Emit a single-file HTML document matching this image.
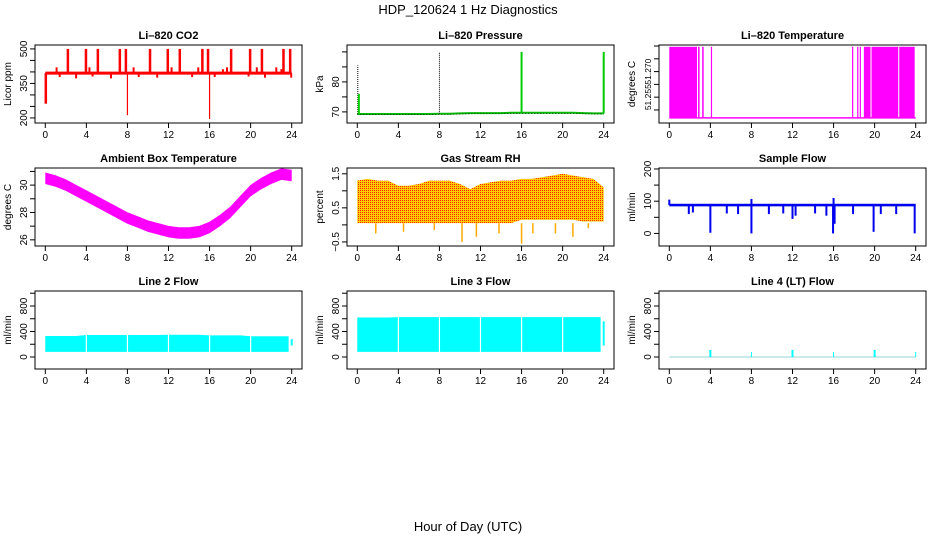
<!DOCTYPE html>
<html><head><meta charset="utf-8"><style>
html,body{margin:0;padding:0;background:#fff}
svg text{font-family:"Liberation Sans",sans-serif}
</style></head><body>
<svg id="c" width="936" height="540" xmlns="http://www.w3.org/2000/svg">
<defs><pattern id="rh" width="2" height="2" patternUnits="userSpaceOnUse"><rect width="2" height="2" fill="#ffcc00"/><rect width="1" height="1" fill="#ff2200"/></pattern></defs>
<text x="468" y="14" font-size="13" text-anchor="middle">HDP_120624  1 Hz Diagnostics</text>
<text x="468" y="531" font-size="13" text-anchor="middle">Hour of Day (UTC)</text>
</svg>
<script>
const hours=[0,4,8,12,16,20,24];
const hr25=[0,1,2,3,4,5,6,7,8,9,10,11,12,13,14,15,16,17,18,19,20,21,22,23,24];
// CO2
const co2Base=395;
const co2SpikeHours=[2.2,3.96,5.12,7.26,7.85,10.2,11.93,13.1,15.3,15.85,18.1,19.95,21.1,23.2,23.85];
const co2SpikeVals=[500,500,500,500,500,500,500,500,500,500,500,500,500,500,500];
const co2DipHours=[0.05,8.0,16.0];
const co2DipVals=[262,212,195];
const co2BumpHours=[1.1,1.4,3.0,4.3,4.6,6.4,8.6,9.1,10.9,12.3,14.3,14.9,16.5,17.3,17.7,19.8,20.6,21.4,22.5,23.0,23.95];
const co2BumpVals=[420,378,372,420,380,372,420,378,375,420,378,420,378,412,420,380,420,375,420,412,375];
// Pressure
const presBase=[69.3,69.3,69.3,69.3,69.3,69.3,69.3,69.3,69.4,69.4,69.5,69.6,69.6,69.6,69.6,69.7,69.7,69.7,69.7,69.7,69.7,69.7,69.6,69.5,69.5];
const presSpikeHours=[0.05,0.15,8.0,16.0,24.0];
const presSpikeVals=[85.5,76,90,90,90];
const presSpikeColors=['#000','#00cc00','#000','#00cc00','#00cc00'];
// Li-820 temperature
const tempLow=51.2469, tempHigh=51.2747;
const tempDenseStart=[0,2.8,3.2,4.05,17.8,18.3,18.55,18.95,19.7,22.4];
const tempDenseEnd=[2.7,2.95,3.35,4.15,17.85,18.35,18.6,19.6,22.3,23.9];
// Ambient
const ambMid=[30.5,30.3,30.0,29.6,29.2,28.8,28.4,28.0,27.6,27.3,27.0,26.8,26.6,26.5,26.5,26.6,26.9,27.4,28.0,28.8,29.6,30.1,30.5,30.8,30.7];
const ambHalf=0.42;
// RH
const rhHi=[1.3,1.35,1.3,1.3,1.15,1.15,1.2,1.3,1.3,1.3,1.2,1.05,1.2,1.25,1.3,1.3,1.35,1.35,1.4,1.45,1.5,1.45,1.4,1.35,1.1];
const rhLo=[0.05,0.05,0.05,0.05,0.05,0.05,0.05,0.05,0.05,0.05,0.05,0.05,0.05,0.05,0.05,0.05,0.15,0.15,0.15,0.15,0.15,0.15,0.1,0.1,0.1];
const rhDipHours=[1.8,4.5,7.5,10.2,11.6,13.8,16.0,17.1,19.3,21.0,22.5];
const rhDipVals=[-0.25,-0.2,-0.15,-0.5,-0.35,-0.25,-0.55,-0.25,-0.25,-0.35,-0.1];
// Sample flow
const sfBase=88;
const sfDipHours=[1.9,2.3,4.0,5.6,6.7,8.0,9.7,11.1,12.0,12.3,14.2,15.3,15.95,16.1,17.9,19.9,20.6,22.1,23.9];
const sfDipVals=[60,65,2,62,60,0,60,62,45,55,62,55,0,30,60,5,60,60,0];
// Line flows
const l2Top=[330,330,330,330,345,345,345,345,345,345,345,345,350,350,350,350,340,340,340,340,325,325,325,325,280];
const l2Low=80;
const l3Top=[620,620,620,620,625,625,625,625,625,625,625,625,625,625,625,625,625,625,625,625,625,625,625,625,560];
const l3Low=80;
const gapHours=[4,8,12,16,20];
const l4SpikeHours=[4,8,12,16,20,24];
const l4SpikeVals=[110,80,110,80,110,80];

const svg=document.getElementById('c');
const NS='http://www.w3.org/2000/svg';
function mk(tag,at,parent){const e=document.createElementNS(NS,tag);for(const k in at)e.setAttribute(k,at[k]);(parent||svg).appendChild(e);return e;}

function panel(name,title,ylab,col,row,ymin,ymax,yticks,ylabels,yfs){
  const L=[35,347,659][col],T=[45,168,291][row],W=267,H=78;
  const g=mk('g',{});
  
  
  const xs=h=>L+10.3+h*(W-20.6)/24;
  const ys=v=>T+H-(v-ymin)/(ymax-ymin)*H;
  const t=mk('text',{x:L+W/2,y:T-6,'font-size':11,'font-weight':'bold','text-anchor':'middle'},g);t.textContent=title;
  
  
  const ax=mk('g',{},g);
  
  
  mk('line',{x1:xs(0),x2:xs(24),y1:T+H,y2:T+H,stroke:'#000'},ax);
  hours.forEach(h=>{mk('line',{x1:xs(h),x2:xs(h),y1:T+H,y2:T+H+5,stroke:'#000'},ax);
    const tx=mk('text',{x:xs(h),y:T+H+15,'font-size':10,'text-anchor':'middle'},ax);tx.textContent=h;});
  const ay=mk('g',{},g);
  
  
  mk('line',{x1:L,x2:L,y1:ys(yticks[0]),y2:ys(yticks[yticks.length-1]),stroke:'#000'},ay);
  yticks.forEach((v,i)=>{mk('line',{x1:L-5,x2:L,y1:ys(v),y2:ys(v),stroke:'#000'},ay);
    if(ylabels[i]!==''){const tx=mk('text',{x:0,y:0,'font-size':yfs||10,'text-anchor':'middle',transform:`translate(${L-8},${ys(v)}) rotate(-90)`},ay);tx.textContent=ylabels[i];}});
  const yl=mk('text',{x:0,y:0,'font-size':10,'text-anchor':'middle',transform:`translate(${L-24},${T+H/2}) rotate(-90)`},g);yl.textContent=ylab;
  
  
  const d=mk('g',{},g);
  
  
  mk('rect',{x:L,y:T,width:W,height:H,fill:'none',stroke:'#000'},g);
  return {xs,ys,d};
}
function vline(p,h,v0,v1,c,w){mk('line',{x1:p.xs(h),x2:p.xs(h),y1:p.ys(v0),y2:p.ys(v1),stroke:c,'stroke-width':w||1.5},p.d);}
function band(p,lo,hi,fill,hrs){let pts=[];hrs.forEach((h,i)=>pts.push(p.xs(h)+','+p.ys(hi[i])));for(let i=hrs.length-1;i>=0;i--)pts.push(p.xs(hrs[i])+','+p.ys(lo[i]));mk('polygon',{points:pts.join(' '),fill},p.d);}

// CO2
let p=panel('co2','Li\u2013820 CO2','Licor ppm',0,0,178,517,[200,250,300,350,400,450,500],['200','','','350','','','500']);
mk('line',{x1:p.xs(0),x2:p.xs(24),y1:p.ys(co2Base),y2:p.ys(co2Base),stroke:'#f00','stroke-width':3},p.d);
co2SpikeHours.forEach((h,i)=>vline(p,h,co2Base,co2SpikeVals[i],'#f00',2.5));
co2DipHours.forEach((h,i)=>vline(p,h,co2Base,co2DipVals[i],'#f00',i==0?2.5:1.2));
co2BumpHours.forEach((h,i)=>vline(p,h,co2Base,co2BumpVals[i],'#f00',2));
// Pressure
p=panel('pressure','Li\u2013820 Pressure','kPa',1,0,66.3,92.3,[70,75,80,85,90],['70','','80','','']);
mk('polyline',{points:hr25.map((h,i)=>p.xs(h)+','+p.ys(presBase[i])).join(' '),fill:'none',stroke:'#00bb00','stroke-width':2},p.d);
mk('polyline',{points:hr25.map((h,i)=>p.xs(h)+','+p.ys(presBase[i]-0.2)).join(' '),fill:'none',stroke:'#000','stroke-width':0.7,'stroke-dasharray':'1,2'},p.d);
presSpikeHours.forEach((h,i)=>mk('line',{x1:p.xs(h),x2:p.xs(h),y1:p.ys(presBase[Math.round(h)]),y2:p.ys(presSpikeVals[i]),stroke:presSpikeColors[i],'stroke-width':presSpikeColors[i]=='#000'?1:2,'stroke-dasharray':presSpikeColors[i]=='#000'?'1,1':'none'},p.d));
// Temperature
p=panel('li820-temp','Li\u2013820 Temperature','degrees C',2,0,51.2449,51.2754,[51.250,51.255,51.260,51.265,51.270,51.275],['','51.255','','51.270','',''],8.5);
mk('line',{x1:p.xs(0),x2:p.xs(24),y1:p.ys(tempLow),y2:p.ys(tempLow),stroke:'#f0f','stroke-width':1.5},p.d);
tempDenseStart.forEach((s,i)=>mk('rect',{x:p.xs(s),y:p.ys(tempHigh),width:Math.max(1.2,p.xs(tempDenseEnd[i])-p.xs(s)),height:p.ys(tempLow)-p.ys(tempHigh),fill:'#f0f'},p.d));
// Ambient
p=panel('ambient-temp','Ambient Box Temperature','degrees C',0,1,25.55,31.25,[26,27,28,29,30,31],['26','','28','','30','']);
band(p,ambMid.map(v=>v-ambHalf),ambMid.map(v=>v+ambHalf),'#f0f',hr25);
// RH
p=panel('gas-rh','Gas Stream RH','percent',1,1,-0.62,1.67,[-0.5,0,0.5,1,1.5],['\u22120.5','','0.5','','1.5']);
band(p,rhLo,rhHi,'url(#rh)',hr25);
rhDipHours.forEach((h,i)=>vline(p,h,0.05,rhDipVals[i],'#ffaa00',1.5));
// Sample flow
p=panel('sample-flow','Sample Flow','ml/min',2,1,-39,203,[0,50,100,150,200],['0','','100','','200']);
mk('rect',{x:p.xs(0),y:p.ys(sfBase+4),width:p.xs(24)-p.xs(0),height:p.ys(sfBase-4)-p.ys(sfBase+4),fill:'#0000ee'},p.d);
sfDipHours.forEach((h,i)=>vline(p,h,sfBase,sfDipVals[i],'#0000ee',2));
vline(p,8,sfBase,107,'#0000ee',2);vline(p,16,sfBase,110,'#0000ee',2);vline(p,0,sfBase,105,'#0000ee',2);
// Line 2
p=panel('line2-flow','Line 2 Flow','ml/min',0,2,-188,1035,[0,200,400,600,800,1000],['0','','400','','800','']);
band(p,hr25.map(()=>l2Low),l2Top.slice(0,24).concat([l2Top[23]]),'#00ffff',hr25.map(h=>Math.min(h,23.7)));
vline(p,24,l2Low+100,l2Top[24],'#00ffff',2);
gapHours.forEach(h=>vline(p,h,l2Low,l2Top[h],'#fff',1.2));
// Line 3
p=panel('line3-flow','Line 3 Flow','ml/min',1,2,-188,1035,[0,200,400,600,800,1000],['0','','400','','800','']);
band(p,hr25.map(()=>l3Low),l3Top.slice(0,24).concat([l3Top[23]]),'#00ffff',hr25.map(h=>Math.min(h,23.7)));
vline(p,24,l3Low+100,l3Top[24],'#00ffff',2);
gapHours.forEach(h=>vline(p,h,l3Low,l3Top[h],'#fff',1.2));
// Line 4
p=panel('line4-flow','Line 4 (LT) Flow','ml/min',2,2,-188,1035,[0,200,400,600,800,1000],['0','','400','','800','']);
mk('line',{x1:p.xs(0),x2:p.xs(24),y1:p.ys(0),y2:p.ys(0),stroke:'#aadddd','stroke-width':1.2},p.d);
l4SpikeHours.forEach((h,i)=>vline(p,h,0,l4SpikeVals[i],'#00ffff',l4SpikeVals[i]>100?2:1));
</script>
</body></html>
